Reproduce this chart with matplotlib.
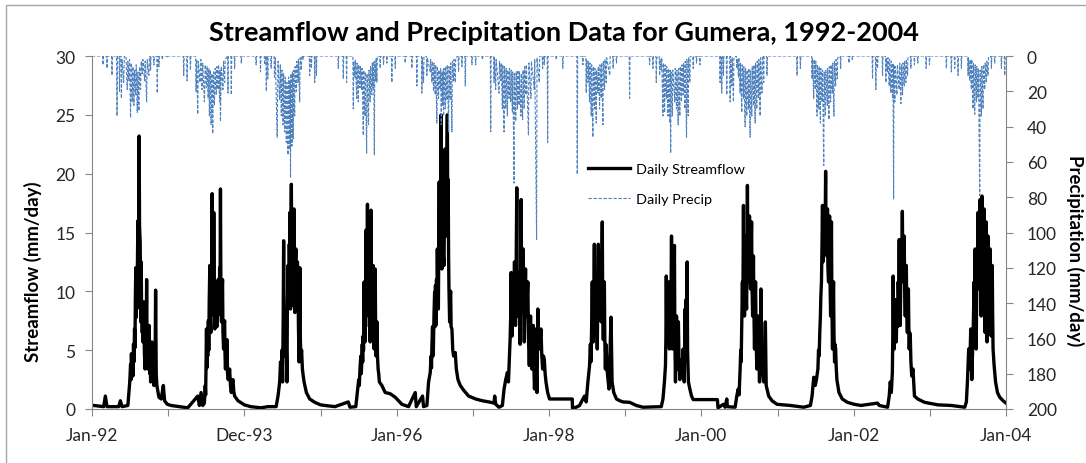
import pandas as pd
import matplotlib
matplotlib.use('Agg')
from matplotlib import pyplot as plt
from matplotlib.patches import Rectangle

# day counts are measured from 1 Jan 1992
start = pd.Timestamp('1992-01-01')

# daily streamflow (mm/day), one row per year
flow_day = [
    0, 8, 56, 64, 72, 128, 136, 144, 172, 181, 185, 187, 189, 192, 194, 196, 199, 201, 204, 206, 208, 210, 212, 214, 215, 218, 220, 222, 224, 226, 228, 231, 233, 234, 236, 238, 239, 241, 243, 244, 246, 249, 251, 254, 257, 259, 262, 264, 266, 268, 271, 274, 277, 279, 281, 284, 287, 290, 294, 297, 299, 302, 305, 308, 311, 321, 332, 342, 348, 361,
    379, 459, 507, 515, 523, 531, 539, 543, 545, 549, 551, 553, 555, 558, 560, 562, 565, 567, 570, 572, 574, 576, 578, 581, 582, 584, 586, 589, 591, 594, 596, 597, 599, 602, 605, 607, 610, 612, 614, 616, 618, 621, 623, 626, 628, 631, 633, 636, 638, 640, 643, 645, 647, 650, 653, 656, 660, 664, 668, 672, 676, 680, 684, 700,
    731, 761, 811, 843, 883, 892, 900, 904, 908, 911, 914, 917, 919, 921, 924, 926, 928, 930, 932, 935, 937, 940, 942, 944, 946, 948, 949, 951, 952, 954, 956, 958, 959, 961, 962, 964, 966, 969, 971, 973, 975, 978, 980, 983, 985, 988, 990, 993, 995, 997, 999, 1002, 1005, 1009, 1013, 1017, 1028, 1044, 1068,
    1096, 1117, 1165, 1229, 1237, 1265, 1274, 1279, 1282, 1285, 1289, 1291, 1293, 1296, 1298, 1300, 1302, 1305, 1307, 1309, 1311, 1312, 1314, 1315, 1317, 1319, 1321, 1323, 1326, 1328, 1330, 1332, 1334, 1336, 1338, 1340, 1343, 1345, 1348, 1350, 1353, 1355, 1358, 1360, 1362, 1364, 1367, 1369, 1372, 1375, 1378, 1390, 1406, 1430, 1454,
    1470, 1486, 1518, 1550, 1555, 1585, 1590, 1606, 1614, 1622, 1626, 1628, 1630, 1633, 1635, 1637, 1640, 1643, 1645, 1647, 1649, 1652, 1654, 1656, 1658, 1661, 1663, 1665, 1667, 1670, 1672, 1674, 1676, 1678, 1680, 1683, 1685, 1688, 1690, 1693, 1695, 1697, 1699, 1701, 1704, 1706, 1708, 1710, 1712, 1715, 1717, 1720, 1722, 1726, 1730, 1734, 1742, 1747, 1755, 1766, 1782, 1806,
    1840, 1872, 1904, 1928, 1931, 1936, 1952, 1968, 1976, 1984, 1992, 1997, 2005, 2008, 2010, 2012, 2015, 2017, 2020, 2023, 2026, 2028, 2031, 2034, 2037, 2039, 2042, 2045, 2048, 2050, 2053, 2055, 2058, 2060, 2063, 2065, 2068, 2070, 2073, 2076, 2079, 2081, 2084, 2087, 2090, 2093, 2097, 2100, 2103, 2106, 2109, 2112, 2116, 2119, 2122, 2125, 2129, 2131, 2134, 2136, 2138, 2141, 2145, 2149, 2153, 2157, 2161, 2165, 2169, 2173, 2177, 2185,
    2194, 2303, 2304, 2322, 2338, 2354, 2362, 2370, 2378, 2386, 2390, 2392, 2394, 2397, 2399, 2401, 2404, 2406, 2409, 2411, 2413, 2415, 2418, 2420, 2423, 2425, 2428, 2430, 2433, 2435, 2438, 2440, 2442, 2444, 2447, 2449, 2452, 2454, 2457, 2459, 2462, 2464, 2466, 2469, 2473, 2476, 2479, 2489, 2494, 2502, 2515, 2531, 2547,
    2578, 2610, 2642, 2730, 2738, 2745, 2750, 2752, 2754, 2756, 2759, 2761, 2764, 2766, 2769, 2771, 2774, 2776, 2779, 2781, 2783, 2785, 2788, 2790, 2793, 2795, 2798, 2800, 2803, 2805, 2807, 2809, 2812, 2815, 2819, 2821, 2824, 2827, 2830, 2832, 2835, 2837, 2840, 2842, 2844, 2846, 2849, 2851, 2854, 2856, 2860, 2867, 2875, 2883,
    2999, 3002, 3028, 3036, 3044, 3047, 3084, 3092, 3099, 3103, 3108, 3111, 3113, 3115, 3117, 3119, 3121, 3124, 3126, 3129, 3131, 3134, 3136, 3139, 3141, 3143, 3145, 3148, 3150, 3153, 3155, 3158, 3160, 3163, 3165, 3168, 3170, 3172, 3174, 3177, 3179, 3182, 3185, 3188, 3191, 3195, 3198, 3201, 3204, 3208, 3211, 3214, 3217, 3221, 3225, 3229, 3233, 3245, 3261, 3285,
    3349, 3413, 3445, 3453, 3461, 3468, 3474, 3481, 3484, 3487, 3490, 3493, 3495, 3498, 3500, 3503, 3505, 3508, 3510, 3513, 3515, 3518, 3520, 3522, 3524, 3527, 3529, 3532, 3534, 3537, 3539, 3542, 3544, 3546, 3548, 3551, 3553, 3556, 3558, 3561, 3563, 3566, 3569, 3572, 3582, 3598, 3622,
    3655, 3687, 3767, 3775, 3815, 3823, 3828, 3833, 3838, 3840, 3842, 3844, 3847, 3849, 3852, 3854, 3857, 3859, 3862, 3864, 3866, 3868, 3871, 3873, 3876, 3878, 3881, 3883, 3886, 3888, 3891, 3893, 3895, 3897, 3900, 3902, 3905, 3907, 3910, 3912, 3915, 3917, 3919, 3921, 3924, 3927, 3931, 3937, 3944, 3960, 3992,
    4057, 4121, 4185, 4193, 4198, 4204, 4209, 4214, 4219, 4222, 4225, 4227, 4230, 4232, 4235, 4237, 4240, 4242, 4244, 4246, 4249, 4251, 4254, 4256, 4259, 4261, 4264, 4266, 4268, 4270, 4273, 4275, 4278, 4280, 4283, 4285, 4288, 4290, 4292, 4294, 4297, 4299, 4302, 4304, 4307, 4309, 4312, 4314, 4317, 4319, 4321, 4326, 4333, 4342, 4353, 4369, 4383,
]
flow_mm = [
    0.3, 0.3, 0.2, 1.1, 0.2, 0.2, 0.7, 0.2, 0.3, 2.3, 3.8, 2.5, 4.7, 3.0, 4.2, 2.8, 5.5, 4.0, 6.8, 5.2, 9.5, 12.0, 7.8, 10.5, 8.5, 12.5, 16.0, 11.0, 15.0, 23.2, 15.5, 14.2, 9.0, 7.4, 12.5, 8.0, 9.1, 6.5, 8.5, 5.7, 7.5, 9.1, 5.0, 3.4, 6.0, 4.0, 11.0, 5.5, 7.0, 3.4, 5.0, 7.1, 3.0, 4.5, 2.3, 3.5, 5.7, 3.0, 2.5, 2.0, 3.4, 2.2, 10.1, 3.0, 2.0, 1.0, 0.85, 2.0, 0.7, 0.4,
    0.3, 0.1, 1.1, 0.3, 1.4, 0.3, 0.5, 2.0, 1.2, 6.8, 3.5, 5.5, 4.5, 7.5, 5.0, 9.0, 12.2, 8.0, 6.5, 11.5, 9.0, 18.3, 12.0, 10.8, 8.0, 16.7, 10.0, 6.8, 9.5, 9.3, 7.0, 10.5, 7.0, 9.0, 11.0, 8.0, 8.5, 12.0, 9.0, 18.7, 10.5, 7.4, 9.5, 11.0, 6.5, 5.1, 7.0, 7.5, 4.5, 3.4, 5.0, 3.5, 5.9, 3.0, 2.5, 2.8, 3.4, 2.0, 1.4, 2.2, 2.5, 1.5, 1.1, 0.7,
    0.35, 0.2, 0.1, 0.2, 0.2, 1.1, 2.3, 4.0, 3.4, 5.0, 2.3, 8.0, 14.3, 7.0, 4.5, 8.5, 6.0, 7.9, 5.0, 2.3, 9.0, 12.2, 10.5, 9.6, 14.0, 11.0, 16.7, 10.0, 8.5, 15.0, 19.1, 12.0, 14.7, 10.0, 13.5, 8.8, 12.0, 17.0, 10.0, 8.2, 12.5, 13.6, 9.0, 9.1, 12.5, 10.8, 7.0, 4.0, 8.0, 12.0, 6.0, 4.2, 5.0, 3.4, 2.8, 2.3, 1.4, 0.85, 0.57,
    0.35, 0.3, 0.2, 0.6, 0.15, 0.2, 1.7, 2.5, 2.0, 3.4, 4.5, 3.0, 3.7, 5.5, 4.0, 6.2, 5.0, 10.8, 7.5, 5.7, 9.0, 7.0, 15.2, 10.0, 9.1, 12.5, 17.4, 11.0, 7.9, 10.5, 13.0, 8.5, 5.7, 9.5, 16.9, 9.5, 5.9, 9.0, 12.2, 7.5, 5.1, 8.0, 11.9, 7.0, 4.5, 6.0, 7.4, 4.5, 3.4, 3.0, 2.3, 2.0, 1.4, 1.3, 1.0,
    0.7, 0.4, 0.2, 1.4, 0.2, 1.1, 0.2, 0.3, 2.3, 3.1, 4.5, 3.5, 5.4, 7.0, 4.5, 5.1, 8.0, 9.9, 7.0, 10.5, 7.1, 11.0, 9.0, 13.6, 10.5, 8.5, 14.0, 19.3, 12.0, 13.6, 17.0, 25.0, 14.0, 11.9, 16.0, 18.7, 13.0, 12.2, 16.5, 22.1, 15.0, 18.0, 14.7, 19.0, 25.0, 16.0, 19.5, 13.0, 10.0, 7.4, 9.5, 10.0, 7.0, 6.8, 5.0, 4.5, 4.8, 3.4, 2.5, 2.0, 1.6, 1.1,
    0.85, 0.7, 0.6, 0.5, 1.1, 0.4, 0.15, 0.3, 1.7, 2.5, 3.1, 2.3, 5.9, 8.0, 11.6, 7.5, 6.2, 8.5, 9.1, 7.5, 12.5, 9.0, 7.1, 12.0, 18.8, 11.0, 7.9, 10.0, 11.6, 8.0, 5.5, 10.0, 17.8, 11.0, 9.3, 12.0, 13.6, 8.5, 5.7, 9.0, 11.9, 8.0, 7.9, 9.5, 10.8, 6.0, 3.7, 6.0, 7.9, 5.0, 3.4, 5.5, 7.1, 3.5, 1.7, 4.0, 6.8, 3.0, 1.4, 5.0, 8.5, 6.0, 5.1, 6.0, 6.8, 4.5, 3.4, 4.5, 4.2, 3.0, 2.3, 1.4,
    0.85, 0.85, 0.1, 0.15, 0.3, 0.85, 1.1, 0.6, 2.3, 3.7, 5.5, 4.0, 5.1, 8.0, 10.8, 7.0, 5.7, 9.0, 14.0, 9.5, 7.4, 10.0, 10.8, 7.5, 5.1, 9.0, 14.0, 10.0, 8.5, 11.0, 13.0, 9.0, 7.4, 11.0, 15.9, 9.0, 5.9, 8.5, 10.8, 6.0, 3.4, 5.5, 5.1, 3.5, 2.8, 2.2, 1.7, 7.8, 2.3, 1.4, 0.85, 0.7, 0.6,
    0.57, 0.3, 0.15, 0.2, 0.85, 2.3, 3.7, 6.0, 11.3, 7.0, 5.9, 8.5, 10.8, 7.0, 5.1, 8.0, 10.8, 8.0, 14.7, 8.0, 5.1, 7.0, 8.5, 6.5, 13.9, 6.0, 2.3, 5.0, 7.9, 5.0, 3.4, 5.5, 7.4, 4.0, 2.5, 3.5, 4.2, 3.0, 4.0, 3.0, 5.1, 3.5, 2.3, 5.0, 8.5, 5.5, 9.3, 6.0, 12.5, 5.0, 2.3, 1.7, 1.1, 0.8,
    0.8, 0.1, 0.4, 0.15, 0.85, 0.2, 0.15, 1.1, 1.7, 1.2, 3.4, 5.0, 4.0, 6.5, 8.5, 10.8, 8.0, 17.3, 11.0, 7.9, 10.5, 14.7, 10.0, 8.5, 12.0, 19.0, 13.0, 10.8, 13.5, 16.4, 12.0, 10.2, 13.0, 15.9, 10.5, 7.9, 10.5, 13.0, 8.5, 5.1, 8.0, 10.8, 6.0, 3.4, 5.5, 7.9, 4.5, 2.3, 5.0, 10.2, 5.5, 4.0, 3.0, 2.3, 3.5, 7.4, 2.0, 1.1, 0.7, 0.4,
    0.3, 0.15, 0.3, 1.1, 2.7, 2.0, 2.5, 3.4, 5.0, 4.5, 6.5, 7.9, 9.5, 10.8, 13.0, 17.3, 12.5, 13.6, 15.5, 16.4, 13.5, 20.2, 14.0, 15.0, 13.0, 17.0, 12.0, 10.8, 13.5, 16.4, 11.0, 7.9, 11.5, 15.9, 9.0, 5.1, 8.0, 10.8, 6.5, 4.0, 5.5, 5.1, 3.5, 2.5, 1.4, 0.85, 0.57,
    0.4, 0.3, 0.5, 0.3, 0.15, 1.1, 2.3, 1.4, 3.1, 6.0, 11.3, 7.0, 5.1, 7.5, 9.3, 6.5, 5.7, 8.0, 8.5, 7.0, 10.8, 9.0, 14.4, 10.0, 7.1, 10.5, 13.6, 11.0, 16.8, 12.0, 10.8, 12.5, 14.7, 10.0, 7.9, 10.0, 12.2, 8.5, 6.5, 8.5, 10.2, 7.0, 5.1, 6.5, 6.2, 4.0, 2.8, 3.4, 1.1, 0.85, 0.57,
    0.35, 0.3, 0.15, 0.6, 2.3, 5.1, 3.4, 6.8, 2.5, 4.5, 5.9, 8.0, 10.8, 9.0, 13.6, 8.5, 5.1, 9.0, 13.0, 12.0, 16.7, 12.5, 10.2, 13.5, 17.8, 11.5, 7.9, 12.0, 18.1, 13.5, 10.8, 14.0, 17.0, 11.0, 6.5, 10.5, 15.9, 10.0, 5.7, 10.0, 14.7, 10.5, 7.9, 10.5, 13.6, 9.5, 6.2, 9.5, 12.2, 8.0, 5.1, 3.7, 2.3, 1.4, 1.0, 0.7, 0.5,
]

# daily precipitation (mm/day)
rain_day = [
    0, 51, 53, 55, 70, 72, 74, 94, 96, 98, 118, 120, 122, 130, 132, 134, 139, 141, 144, 152, 155, 163, 165, 169, 172, 177, 180, 185, 188, 193, 196, 201, 204, 209, 212, 217, 220, 225, 228, 233, 236, 241, 244, 252, 255, 262, 265, 273, 276, 279, 281, 283, 295, 297, 299, 311, 313, 315, 319, 321, 323, 335, 337, 339, 359, 361, 363,
    438, 440, 442, 454, 456, 458, 470, 472, 474, 497, 499, 502, 507, 510, 518, 522, 528, 531, 539, 543, 549, 552, 557, 560, 563, 567, 571, 575, 579, 583, 587, 591, 596, 599, 604, 607, 612, 614, 616, 620, 628, 631, 636, 639, 650, 652, 654, 666, 668, 670, 682, 684, 686, 714, 716, 718,
    785, 787, 789, 806, 808, 810, 826, 828, 830, 834, 836, 838, 841, 843, 845, 857, 859, 861, 873, 875, 879, 888, 892, 900, 903, 908, 911, 916, 919, 924, 927, 932, 935, 940, 943, 948, 950, 952, 954, 959, 961, 965, 967, 972, 974, 980, 982, 988, 990, 996, 998, 1004, 1006, 1010, 1012, 1014, 1042, 1044, 1046, 1050, 1052, 1054, 1066, 1068, 1070, 1074, 1076, 1078,
    1179, 1181, 1183, 1203, 1205, 1207, 1219, 1221, 1223, 1251, 1253, 1255, 1261, 1263, 1269, 1271, 1277, 1279, 1285, 1287, 1293, 1295, 1301, 1303, 1309, 1311, 1317, 1319, 1326, 1328, 1334, 1336, 1342, 1344, 1348, 1350, 1354, 1356, 1361, 1363, 1366, 1368, 1380, 1382, 1384, 1396, 1398, 1400, 1412, 1414, 1416, 1436, 1438, 1440, 1452, 1454, 1456,
    1500, 1502, 1504, 1532, 1534, 1536, 1556, 1558, 1560, 1580, 1582, 1584, 1590, 1592, 1604, 1606, 1608, 1622, 1624, 1630, 1632, 1638, 1640, 1646, 1648, 1654, 1656, 1662, 1664, 1670, 1672, 1675, 1677, 1682, 1684, 1686, 1688, 1694, 1696, 1702, 1704, 1710, 1712, 1718, 1720, 1726, 1728, 1734, 1736, 1742, 1744, 1756, 1758, 1760, 1772, 1774, 1776, 1788, 1790, 1792, 1820, 1822, 1824,
    1838, 1840, 1842, 1870, 1872, 1874, 1910, 1912, 1914, 1926, 1928, 1930, 1936, 1938, 1952, 1954, 1960, 1962, 1968, 1970, 1976, 1978, 1984, 1986, 1992, 1994, 2000, 2002, 2008, 2010, 2016, 2018, 2024, 2026, 2032, 2034, 2040, 2042, 2048, 2050, 2057, 2059, 2065, 2067, 2073, 2075, 2081, 2083, 2093, 2095, 2105, 2107, 2121, 2123, 2132, 2134, 2145, 2147, 2159, 2161, 2163, 2167, 2169, 2171, 2183, 2185, 2187,
    2224, 2226, 2228, 2256, 2258, 2260, 2325, 2327, 2329, 2352, 2354, 2356, 2368, 2370, 2372, 2378, 2380, 2386, 2388, 2394, 2396, 2402, 2404, 2410, 2412, 2418, 2420, 2426, 2428, 2434, 2436, 2442, 2444, 2450, 2452, 2458, 2460, 2466, 2468, 2483, 2485, 2497, 2499, 2501, 2513, 2515, 2517,
    2576, 2578, 2580, 2672, 2674, 2676, 2688, 2690, 2692, 2704, 2706, 2708, 2720, 2722, 2724, 2730, 2732, 2738, 2740, 2746, 2748, 2754, 2756, 2762, 2764, 2770, 2772, 2775, 2777, 2783, 2785, 2795, 2797, 2803, 2805, 2811, 2813, 2819, 2821, 2827, 2829, 2835, 2837, 2843, 2845, 2851, 2853, 2859, 2861, 2867, 2869, 2881, 2883, 2885, 2897, 2899, 2901, 2913, 2915, 2917,
    3010, 3012, 3014, 3018, 3020, 3022, 3026, 3028, 3030, 3042, 3044, 3046, 3058, 3060, 3062, 3068, 3070, 3076, 3078, 3090, 3092, 3094, 3100, 3102, 3108, 3110, 3116, 3118, 3124, 3126, 3132, 3134, 3140, 3142, 3148, 3150, 3156, 3158, 3164, 3166, 3172, 3174, 3180, 3182, 3188, 3190, 3196, 3198, 3204, 3206, 3213, 3215, 3219, 3221, 3223, 3235, 3237, 3239,
    3379, 3381, 3383, 3395, 3397, 3399, 3451, 3453, 3455, 3461, 3463, 3469, 3471, 3477, 3479, 3485, 3487, 3493, 3495, 3501, 3503, 3509, 3511, 3517, 3519, 3526, 3528, 3534, 3536, 3542, 3544, 3550, 3552, 3558, 3560, 3566, 3568, 3574, 3576, 3588, 3590, 3592, 3628, 3630, 3632, 3644, 3646, 3648,
    3741, 3743, 3745, 3757, 3759, 3761, 3765, 3767, 3769, 3789, 3791, 3793, 3805, 3807, 3809, 3815, 3817, 3823, 3825, 3831, 3833, 3839, 3841, 3844, 3846, 3850, 3852, 3860, 3862, 3871, 3873, 3879, 3881, 3887, 3889, 3895, 3897, 3903, 3905, 3911, 3913, 3925, 3927, 3929, 3942, 3944, 3946, 3958, 3960, 3962, 3998, 4000, 4002, 4014, 4016, 4018,
    4095, 4097, 4099, 4119, 4121, 4123, 4135, 4137, 4139, 4151, 4153, 4155, 4167, 4169, 4171, 4199, 4201, 4203, 4209, 4211, 4217, 4219, 4225, 4227, 4233, 4235, 4241, 4243, 4249, 4251, 4257, 4259, 4265, 4267, 4273, 4275, 4281, 4283, 4289, 4291, 4297, 4299, 4311, 4313, 4315, 4327, 4329, 4331, 4359, 4361, 4363, 4375, 4377, 4379, 4383,
]
rain_mm = [
    0, 0, 5, 0, 0, 7, 0, 0, 11, 0, 0, 34, 0, 0, 20, 0, 0, 24, 2, 15, 0, 0, 8, 19, 3, 14, 2, 35, 4, 26, 6, 28, 8, 22, 5, 32, 9, 31, 6, 19, 3, 10, 2, 14, 3, 26, 2, 11, 0, 0, 8, 0, 0, 5, 0, 0, 21, 0, 0, 6, 0, 0, 2, 0, 0, 1, 0,
    0, 11, 0, 0, 14, 0, 0, 8, 0, 0, 20, 2, 33, 3, 15, 2, 19, 4, 26, 5, 18, 6, 24, 7, 34, 8, 39, 10, 44, 9, 28, 7, 22, 6, 19, 5, 26, 8, 37, 6, 19, 3, 15, 2, 0, 21, 0, 0, 22, 0, 0, 7, 0, 0, 4, 0,
    0, 5, 0, 0, 9, 0, 0, 5, 2, 0, 20, 0, 0, 13, 0, 0, 7, 0, 0, 12, 1, 46, 3, 25, 5, 34, 8, 39, 10, 43, 12, 49, 15, 56, 12, 53, 14, 69, 10, 51, 9, 47, 8, 34, 6, 20, 3, 15, 2, 26, 1, 8, 0, 0, 2, 0, 0, 11, 0, 0, 7, 0, 0, 15, 0, 0, 11, 0,
    0, 7, 0, 0, 13, 0, 0, 15, 0, 0, 30, 3, 12, 2, 24, 4, 26, 5, 18, 6, 19, 7, 45, 8, 34, 9, 55, 10, 39, 8, 26, 6, 22, 4, 18, 3, 56, 3, 14, 1, 15, 0, 0, 7, 0, 0, 5, 0, 0, 4, 0, 0, 15, 0, 0, 7, 0,
    0, 4, 0, 0, 7, 0, 0, 17, 0, 0, 21, 1, 15, 0, 0, 11, 1, 9, 2, 15, 3, 20, 4, 22, 5, 38, 6, 24, 8, 19, 7, 39, 9, 28, 8, 34, 7, 30, 6, 25, 5, 43, 6, 25, 4, 43, 3, 14, 2, 15, 1, 0, 9, 0, 0, 6, 0, 0, 17, 0, 0, 5, 0,
    0, 5, 0, 0, 2, 0, 0, 43, 0, 0, 15, 1, 19, 2, 21, 3, 14, 4, 30, 5, 43, 6, 30, 7, 34, 8, 24, 7, 26, 8, 32, 9, 72, 10, 37, 9, 30, 8, 28, 9, 34, 10, 36, 8, 30, 6, 22, 5, 45, 4, 24, 3, 19, 2, 104, 1, 15, 0, 0, 7, 0, 0, 5, 0, 0, 49, 0,
    0, 2, 0, 0, 7, 0, 0, 67, 0, 0, 5, 0, 0, 21, 2, 15, 3, 26, 4, 34, 5, 46, 6, 30, 7, 38, 8, 21, 6, 30, 5, 24, 4, 39, 3, 19, 2, 15, 1, 11, 0, 0, 7, 0, 0, 4, 0,
    0, 24, 0, 0, 5, 0, 0, 7, 0, 0, 15, 1, 0, 11, 2, 8, 1, 34, 4, 32, 5, 24, 6, 34, 7, 38, 8, 55, 9, 34, 8, 26, 7, 30, 8, 39, 7, 34, 6, 26, 5, 22, 4, 30, 3, 46, 2, 34, 1, 15, 0, 0, 7, 0, 0, 4, 0, 0, 5, 0,
    0, 15, 0, 0, 21, 0, 0, 11, 0, 0, 22, 0, 0, 26, 0, 17, 1, 26, 1, 0, 7, 2, 12, 1, 21, 4, 32, 5, 24, 6, 40, 7, 34, 8, 30, 7, 46, 8, 34, 6, 28, 5, 38, 4, 30, 3, 24, 2, 34, 1, 21, 0, 0, 15, 0, 0, 11, 0,
    0, 11, 0, 0, 7, 0, 0, 13, 1, 24, 2, 19, 3, 34, 5, 30, 6, 38, 7, 26, 8, 62, 9, 34, 8, 28, 7, 36, 6, 26, 5, 21, 4, 34, 3, 17, 2, 13, 1, 0, 7, 0, 0, 4, 0, 0, 2, 0,
    0, 13, 0, 0, 19, 0, 0, 7, 0, 0, 11, 0, 0, 15, 1, 9, 1, 17, 2, 21, 3, 24, 4, 81, 5, 26, 6, 22, 5, 19, 4, 27, 5, 22, 4, 17, 3, 15, 2, 11, 1, 0, 7, 0, 0, 5, 0, 0, 4, 0, 0, 7, 0, 0, 5, 0,
    0, 7, 0, 0, 9, 0, 0, 7, 0, 0, 11, 0, 0, 7, 0, 0, 11, 1, 14, 2, 19, 2, 30, 4, 33, 5, 26, 6, 24, 7, 79, 8, 34, 6, 30, 5, 19, 4, 15, 3, 11, 1, 0, 7, 0, 0, 4, 0, 0, 7, 0, 0, 11, 0, 0,
]

year_ticks = pd.date_range('1992-01-01', '2004-01-01', freq='YS')
tick_text = ['Jan-92', '', 'Dec-93', '', 'Jan-96', '', 'Jan-98', '', 'Jan-00', '', 'Jan-02', '', 'Jan-04']

plt.rcParams['font.family'] = ['Lato', 'DejaVu Sans']
axis_grey = '#868686'

flow_dates = start + pd.to_timedelta(flow_day, unit='D')
rain_dates = start + pd.to_timedelta(rain_day, unit='D')

fig = plt.figure(figsize=(10.86, 4.64), dpi=100)
ax = fig.add_axes([92 / 1086, 1 - 410 / 464, (1006 - 92) / 1086, (410 - 57) / 464])
ax2 = ax.twinx()

l1, = ax.plot(flow_dates, flow_mm, color='black', lw=2.4, label='Daily Streamflow')
l2, = ax2.plot(rain_dates, rain_mm, color='#4f81bd', lw=0.8, ls=(0, (3, 1.5)), label='Daily Precip')

ax.set_xlim(start, pd.Timestamp('2004-01-01'))
ax.set_ylim(0, 30)
ax.set_yticks(range(0, 31, 5))
ax2.set_ylim(200, 0)
ax2.set_yticks(range(0, 201, 20))
ax.set_xticks(year_ticks)
ax.set_xticklabels(tick_text)

for a in (ax, ax2):
    a.spines['top'].set_visible(False)
    for s in a.spines.values():
        s.set_color(axis_grey)
ax.spines['right'].set_visible(False)
ax2.spines['left'].set_visible(False)
ax2.spines['bottom'].set_visible(False)

ax.tick_params(axis='x', direction='out', length=5, color=axis_grey, labelsize=12.5, pad=8, labelcolor='#262626')
ax.tick_params(axis='y', direction='out', length=5, color=axis_grey, labelsize=12.5, pad=7, labelcolor='#262626')
ax2.tick_params(axis='y', direction='out', length=5, color=axis_grey, labelsize=12.5, pad=10, labelcolor='#262626')

fig.text(0.519, 0.929, 'Streamflow and Precipitation Data for Gumera, 1992-2004',
         ha='center', va='center', fontsize=19.5, fontweight='bold')
fig.text(33 / 1086, 1 - 272 / 464, 'Streamflow (mm/day)', rotation=90,
         ha='center', va='center', fontsize=13.4, fontweight='bold')
fig.text(1075 / 1086, 1 - 251 / 464, 'Precipitation (mm/day)', rotation=270,
         ha='center', va='center', fontsize=13.4, fontweight='bold')

fig.legend(handles=[l1, l2], loc='upper left', bbox_to_anchor=(588 / 1086, 1 - 164 / 464),
           frameon=False, fontsize=10.4, handlelength=2.9, handletextpad=0.4,
           labelspacing=1.24, borderpad=0, borderaxespad=0)

# chart border, cut off at the right and bottom like the original
fig.add_artist(Rectangle((6 / 1086, -0.05), 1.1, 1 - 5.5 / 464 + 0.05, transform=fig.transFigure,
                         fill=False, edgecolor='#a6a6a6', lw=1))

fig.savefig('out.png', dpi=100)
